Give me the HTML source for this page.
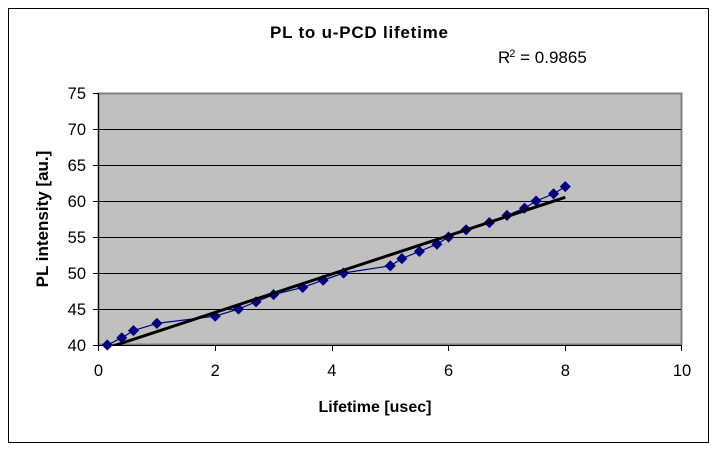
<!DOCTYPE html>
<html>
<head>
<meta charset="utf-8">
<style>
  html, body { margin: 0; padding: 0; background: #ffffff; }
  body { width: 722px; height: 451px; overflow: hidden; }
  svg { display: block; }
  text { font-family: "Liberation Sans", Arial, sans-serif; fill: #000; }
</style>
</head>
<body>
<svg width="722" height="451" viewBox="0 0 722 451" xmlns="http://www.w3.org/2000/svg">
  <defs>
    <clipPath id="plotclip">
      <rect x="98.5" y="93.5" width="583" height="251.5"/>
    </clipPath>
  </defs>
  <rect x="0" y="0" width="722" height="451" fill="#ffffff"/>
  <!-- chart border -->
  <rect x="8.5" y="8.5" width="700" height="434" fill="#ffffff" stroke="#000" stroke-width="1"/>

  <!-- title -->
  <text x="359" y="38" font-size="17" font-weight="bold" text-anchor="middle" textLength="178" lengthAdjust="spacing">PL to u-PCD lifetime</text>

  <!-- R squared -->
  <text x="498" y="63" font-size="17">R<tspan font-size="11" dy="-6" dx="-1">2</tspan><tspan dy="6"> = 0.9865</tspan></text>

  <!-- plot area -->
  <rect x="98.5" y="93.5" width="583" height="251" fill="#c0c0c0" stroke="#808080" stroke-width="2"/>

  <!-- gridlines -->
  <g stroke="#000" stroke-width="1">
    <line x1="98.5" y1="129.5" x2="681" y2="129.5"/>
    <line x1="98.5" y1="165.5" x2="681" y2="165.5"/>
    <line x1="98.5" y1="201.5" x2="681" y2="201.5"/>
    <line x1="98.5" y1="237.5" x2="681" y2="237.5"/>
    <line x1="98.5" y1="273.5" x2="681" y2="273.5"/>
    <line x1="98.5" y1="309.5" x2="681" y2="309.5"/>
  </g>

  <!-- axes -->
  <g stroke="#000" stroke-width="1">
    <line x1="98.5" y1="93" x2="98.5" y2="345.5"/>
    <line x1="98" y1="345.5" x2="682" y2="345.5"/>
    <!-- y ticks -->
    <line x1="93" y1="93.5" x2="98.5" y2="93.5"/>
    <line x1="93" y1="129.5" x2="98.5" y2="129.5"/>
    <line x1="93" y1="165.5" x2="98.5" y2="165.5"/>
    <line x1="93" y1="201.5" x2="98.5" y2="201.5"/>
    <line x1="93" y1="237.5" x2="98.5" y2="237.5"/>
    <line x1="93" y1="273.5" x2="98.5" y2="273.5"/>
    <line x1="93" y1="309.5" x2="98.5" y2="309.5"/>
    <line x1="93" y1="345.5" x2="98.5" y2="345.5"/>
    <!-- x ticks -->
    <line x1="98.5" y1="345" x2="98.5" y2="351"/>
    <line x1="215.5" y1="345" x2="215.5" y2="351"/>
    <line x1="332.5" y1="345" x2="332.5" y2="351"/>
    <line x1="448.5" y1="345" x2="448.5" y2="351"/>
    <line x1="565.5" y1="345" x2="565.5" y2="351"/>
    <line x1="681.5" y1="345" x2="681.5" y2="351"/>
  </g>

  <!-- y tick labels -->
  <g font-size="16.5" text-anchor="end">
    <text x="86" y="99">75</text>
    <text x="86" y="135">70</text>
    <text x="86" y="171">65</text>
    <text x="86" y="207">60</text>
    <text x="86" y="243">55</text>
    <text x="86" y="279">50</text>
    <text x="86" y="315">45</text>
    <text x="86" y="351">40</text>
  </g>

  <!-- x tick labels -->
  <g font-size="16.5" text-anchor="middle">
    <text x="98.5" y="376">0</text>
    <text x="215.2" y="376">2</text>
    <text x="331.9" y="376">4</text>
    <text x="448.6" y="376">6</text>
    <text x="565.3" y="376">8</text>
    <text x="682" y="376">10</text>
  </g>

  <!-- axis titles -->
  <text x="375" y="412" font-size="16" font-weight="bold" text-anchor="middle">Lifetime [usec]</text>
  <text transform="translate(48,219) rotate(-90)" font-size="17" font-weight="bold" text-anchor="middle">PL intensity [au.]</text>

  <!-- data series line -->
  <polyline fill="none" stroke="#000080" stroke-width="1.2" stroke-linejoin="round"
    points="107.3,345 121.8,337.8 133.5,330.6 156.9,323.4 215.2,316.2 238.5,309 256,301.8 273.6,294.6 302.7,287.4 323.1,280.2 343.6,273 390.3,265.8 401.9,258.6 419.4,251.4 436.9,244.2 448.6,237 466.1,229.8 489.4,222.6 507,215.4 524.5,208.2 536.1,201 553.6,193.8 565.3,186.6"/>

  <!-- markers -->
  <path fill="#000080" stroke="#000080" stroke-width="0.8" d="
    M107.3,340 L112.3,345 L107.3,350 L102.3,345 Z
    M121.8,332.8 L126.8,337.8 L121.8,342.8 L116.8,337.8 Z
    M133.5,325.6 L138.5,330.6 L133.5,335.6 L128.5,330.6 Z
    M156.9,318.4 L161.9,323.4 L156.9,328.4 L151.9,323.4 Z
    M215.2,311.2 L220.2,316.2 L215.2,321.2 L210.2,316.2 Z
    M238.5,304 L243.5,309 L238.5,314 L233.5,309 Z
    M256,296.8 L261,301.8 L256,306.8 L251,301.8 Z
    M273.6,289.6 L278.6,294.6 L273.6,299.6 L268.6,294.6 Z
    M302.7,282.4 L307.7,287.4 L302.7,292.4 L297.7,287.4 Z
    M323.1,275.2 L328.1,280.2 L323.1,285.2 L318.1,280.2 Z
    M343.6,268 L348.6,273 L343.6,278 L338.6,273 Z
    M390.3,260.8 L395.3,265.8 L390.3,270.8 L385.3,265.8 Z
    M401.9,253.6 L406.9,258.6 L401.9,263.6 L396.9,258.6 Z
    M419.4,246.4 L424.4,251.4 L419.4,256.4 L414.4,251.4 Z
    M436.9,239.2 L441.9,244.2 L436.9,249.2 L431.9,244.2 Z
    M448.6,232 L453.6,237 L448.6,242 L443.6,237 Z
    M466.1,224.8 L471.1,229.8 L466.1,234.8 L461.1,229.8 Z
    M489.4,217.6 L494.4,222.6 L489.4,227.6 L484.4,222.6 Z
    M507,210.4 L512,215.4 L507,220.4 L502,215.4 Z
    M524.5,203.2 L529.5,208.2 L524.5,213.2 L519.5,208.2 Z
    M536.1,196 L541.1,201 L536.1,206 L531.1,201 Z
    M553.6,188.8 L558.6,193.8 L553.6,198.8 L548.6,193.8 Z
    M565.3,181.6 L570.3,186.6 L565.3,191.6 L560.3,186.6 Z"/>

  <!-- trendline -->
  <g clip-path="url(#plotclip)">
    <line x1="107.3" y1="347.9" x2="565.3" y2="197.3" stroke="#000" stroke-width="3" stroke-linecap="butt"/>
  </g>
</svg>
</body>
</html>
